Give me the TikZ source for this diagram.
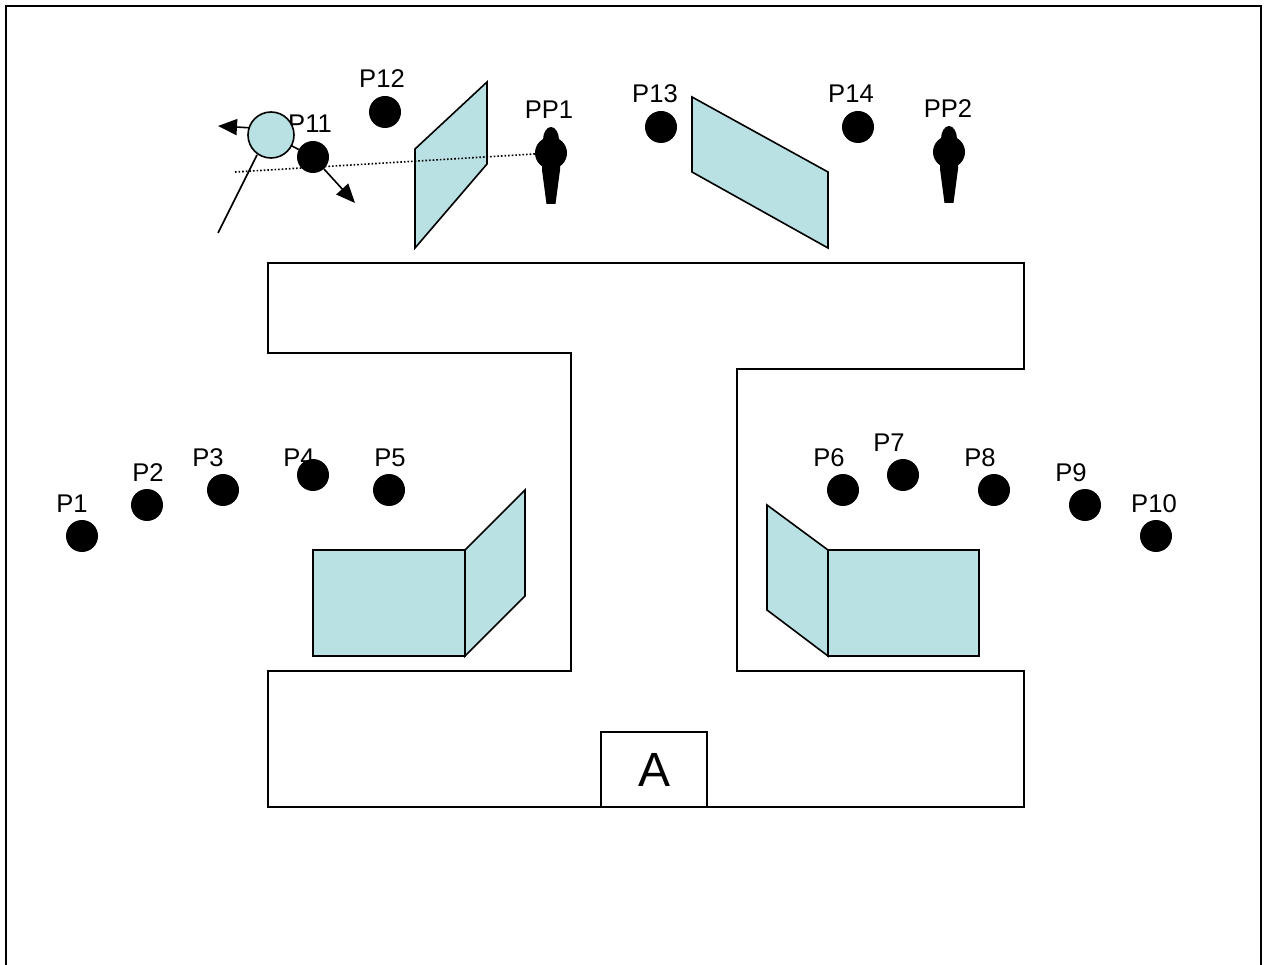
\documentclass[tikz,border=0pt]{standalone}
\usepackage{fontspec}
\setmainfont{Liberation Sans}
\usetikzlibrary{arrows.meta}
\definecolor{panelblue}{HTML}{B9E0E3}
\tikzset{
  x=1pt,y=-1pt,
  outline/.style={draw=black,line width=1.6pt,line join=miter},
  panel/.style={outline,fill=panelblue},
  dotnode/.style={circle,fill=black,inner sep=0pt,minimum size=32pt},
  plabel/.style={inner sep=0pt,yshift=-0.8pt,font=\fontsize{25.6}{26}\selectfont},
  arrowline/.style={draw=black,line width=1.6pt,-{Triangle[length=19pt,width=16pt]}},
  thinline/.style={draw=black,line width=1.6pt},
  sightline/.style={draw=black,line width=1.6pt,dash pattern=on 1.6pt off 2pt},
  personshape/.style={fill=black,draw=none}
}
\newcommand{\personfig}[3]{%
  \fill[personshape] (#1,#2-13) ellipse [x radius=8,y radius=13];
  \fill[personshape] (#1-9,#2+10) -- (#1+9,#2+10) -- (#1+9,#2+17) -- (#1+4.5,#2+51) -- (#1-4.5,#2+51) -- (#1-9,#2+17) -- cycle;
  \node[dotnode] (#3) at (#1,#2) {};
}
\begin{document}
\begin{tikzpicture}
\useasboundingbox (0,0) rectangle (1267,965);
\draw[outline] (6,975) -- (6,6) -- (1261,6) -- (1261,975);
% building outline
\draw[outline] (268,263) -- (1024,263) -- (1024,369) -- (737,369) -- (737,671) -- (1024,671) -- (1024,807) -- (268,807) -- (268,671) -- (571,671) -- (571,353) -- (268,353) -- cycle;
\node[outline,fill=white,minimum width=106pt,minimum height=75pt,inner sep=0pt] (A) at (654,769.5) {};
\node[inner sep=0pt,font=\fontsize{48}{48}\selectfont] (Atext) at (654.5,770) {A};
% panels
\draw[panel] (415,149) -- (487,82) -- (487,164) -- (415,248) -- cycle;
\draw[panel] (692,97) -- (828,172) -- (828,248) -- (692,172) -- cycle;
\draw[panel] (313,550) rectangle (465,656);
\draw[panel] (465,550) -- (525,490) -- (525,596) -- (465,656) -- cycle;
\draw[panel] (828,550) rectangle (979,656);
\draw[panel] (767,505) -- (828,550) -- (828,656) -- (767,610) -- cycle;
% labels
\node[plabel] (L1) at (72,503) {P1};
\node[plabel] (L2) at (148,472) {P2};
\node[plabel] (L3) at (208,457) {P3};
\node[plabel] (L4) at (299,457) {P4};
\node[plabel] (L5) at (390,457) {P5};
\node[plabel] (L6) at (829,457) {P6};
\node[plabel] (L7) at (889,442) {P7};
\node[plabel] (L8) at (980,457) {P8};
\node[plabel] (L9) at (1071,472) {P9};
\node[plabel] (L10) at (1154,503) {P10};
\node[plabel] (L11) at (310,123) {P11};
\node[plabel] (L12) at (382,78) {P12};
\node[plabel] (L13) at (655,93) {P13};
\node[plabel] (L14) at (851,93) {P14};
\node[plabel] (LP1) at (549,109) {PP1};
\node[plabel] (LP2) at (948,108) {PP2};
% dots
\node[dotnode] (P1) at (82,536) {};
\node[dotnode] (P2) at (147,505) {};
\node[dotnode] (P3) at (223,490) {};
\node[dotnode] (P4) at (313,475) {};
\node[dotnode] (P5) at (389,490) {};
\node[dotnode] (P6) at (843,490) {};
\node[dotnode] (P7) at (903,475) {};
\node[dotnode] (P8) at (994,490) {};
\node[dotnode] (P9) at (1085,505) {};
\node[dotnode] (P10) at (1156,536) {};
\node[dotnode] (P12) at (385,112) {};
\node[dotnode] (P13) at (661,127) {};
\node[dotnode] (P14) at (858,127) {};
% persons
\personfig{551}{153}{PP1}
\personfig{949}{152}{PP2}
% moving ball with connectors
\node[dotnode] (P11) at (313,157) {};
\coordinate (armL) at (218,126);
\coordinate (armR) at (355,203);
\coordinate (leg) at (218,233);
\coordinate (sightStart) at (235,172);
\draw[thinline] (271,135) -- (P11);
\draw[arrowline] (P11) -- (armR);
\draw[arrowline] (271,129) -- (armL);
\draw[thinline] (257,155) -- (leg);
\node[outline,circle,fill=panelblue,minimum size=46pt,inner sep=0pt] (ball) at (271,135) {};
\draw[sightline] (sightStart) -- (PP1);
\end{tikzpicture}
\end{document}
